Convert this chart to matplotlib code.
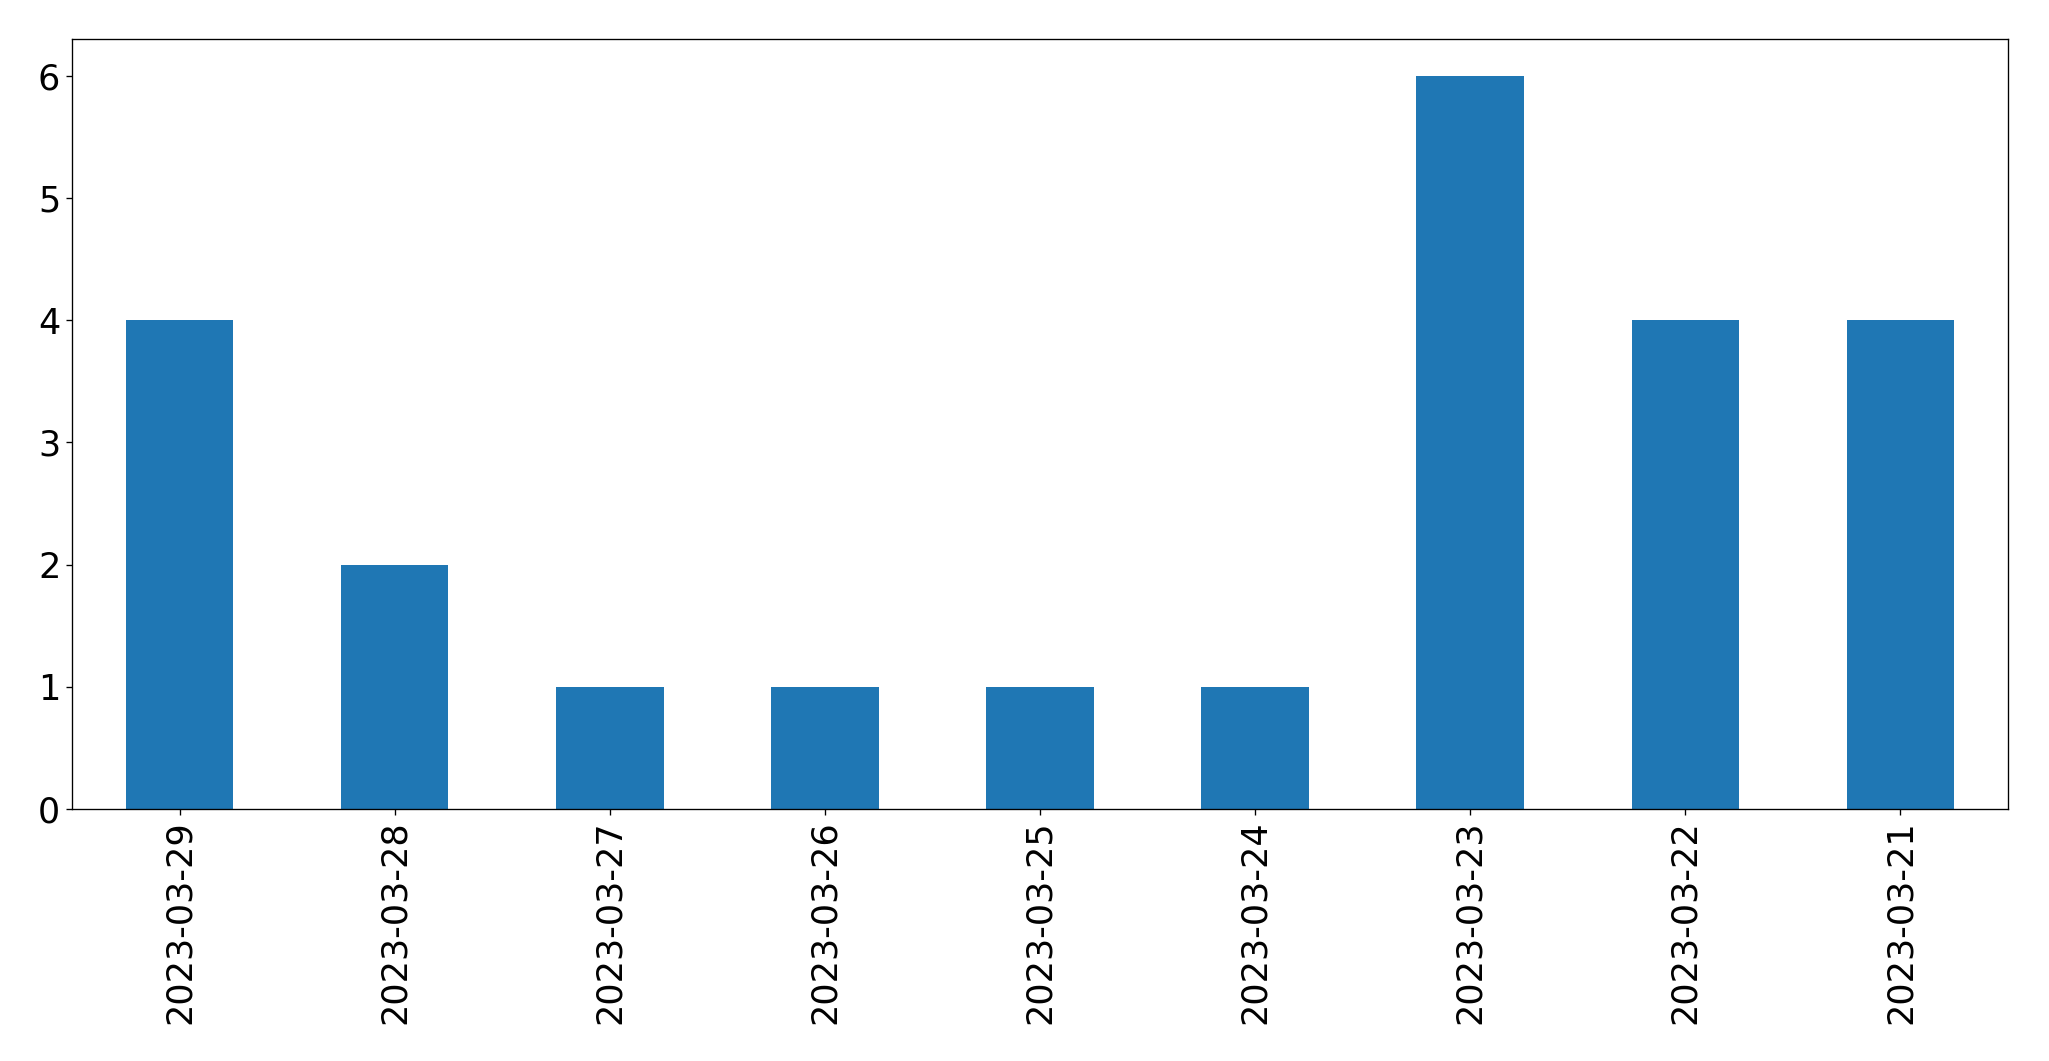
import matplotlib
matplotlib.use("Agg")
import matplotlib.pyplot as plt

dates = ["2023-03-29", "2023-03-28", "2023-03-27", "2023-03-26", "2023-03-25",
         "2023-03-24", "2023-03-23", "2023-03-22", "2023-03-21"]
counts = [4, 2, 1, 1, 1, 1, 6, 4, 4]

fig = plt.figure(figsize=(2049 / 120, 1061 / 120), dpi=120)
ax = fig.add_axes([72 / 2049, 1 - 809 / 1061, (2008 - 72) / 2049, (809 - 39) / 1061])

ax.bar(range(len(dates)), counts, width=0.5, color="#1f77b4")
ax.set_xlim(-0.5, len(dates) - 0.5)
ax.set_xticks(range(len(dates)))
ax.set_xticklabels(dates, rotation=90)
ax.tick_params(labelsize=21)

fig.savefig("out.png", dpi=120)
